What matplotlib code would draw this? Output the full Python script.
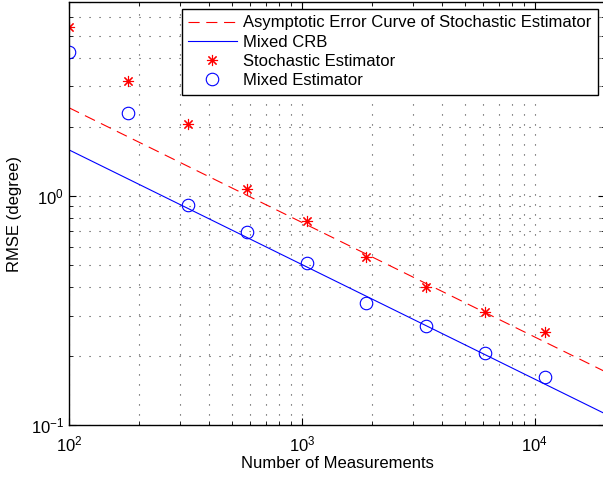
import numpy as np
import matplotlib
matplotlib.use('Agg')
import matplotlib.pyplot as plt

plt.rcParams['font.family'] = ['Liberation Sans', 'DejaVu Sans']
plt.rcParams['mathtext.default'] = 'regular'

# number of measurements
n_meas = [100, 180, 324, 583, 1050, 1890, 3401, 6122, 11020]

# RMSE (degree)
rmse_stoch = [5.42, 3.18, 2.06, 1.07, 0.778, 0.542, 0.401, 0.311, 0.255]
rmse_mixed = [4.25, 2.30, 0.914, 0.697, 0.509, 0.341, 0.270, 0.206, 0.162]

# straight lines on log-log axes (end points)
line_x = [100, 20000]
asym_y = [2.42, 0.171]
crb_y = [1.585, 0.112]

fig = plt.figure(figsize=(6.03, 4.78), dpi=100)
ax = fig.add_axes([69 / 603, 53 / 478, 536 / 603, 423 / 478])

ax.loglog(line_x, asym_y, '--', color='red', lw=0.8, dashes=(10, 6),
          label='Asymptotic Error Curve of Stochastic Estimator')
ax.loglog(line_x, crb_y, '-', color='blue', lw=0.8, label='Mixed CRB')
ax.loglog(n_meas, rmse_stoch, ls='none', marker=(8, 2, 0), ms=8, mew=0.8,
          color='red', label='Stochastic Estimator')
ax.loglog(n_meas, rmse_mixed, ls='none', marker='o', ms=9, mew=0.8,
          mfc='none', mec='blue', label='Mixed Estimator')

ax.set_xlim(100, 20000)
ax.set_ylim(0.1, 7)
ax.set_xlabel('Number of Measurements', fontsize=12, labelpad=1)
ax.set_ylabel('RMSE (degree)', fontsize=12, labelpad=6)

ax.grid(True, which='both', color='0.25', ls=(0, (1, 8)), lw=0.8)
ax.tick_params(which='both', direction='in', top=True, right=True, labelsize=12)
ax.tick_params(which='major', length=5)
ax.tick_params(which='minor', length=3)
ax.tick_params(axis='x', which='major', pad=7)
for s in ax.spines.values():
    s.set_linewidth(1.0)

leg = ax.legend(loc='upper right', fontsize=12, fancybox=False, framealpha=1,
                edgecolor='black', handlelength=2.9, handletextpad=0.4,
                labelspacing=0.25, borderaxespad=0.4, borderpad=0.4,
                numpoints=1)
leg.get_frame().set_linewidth(1.0)

fig.savefig('out.png', dpi=100)
